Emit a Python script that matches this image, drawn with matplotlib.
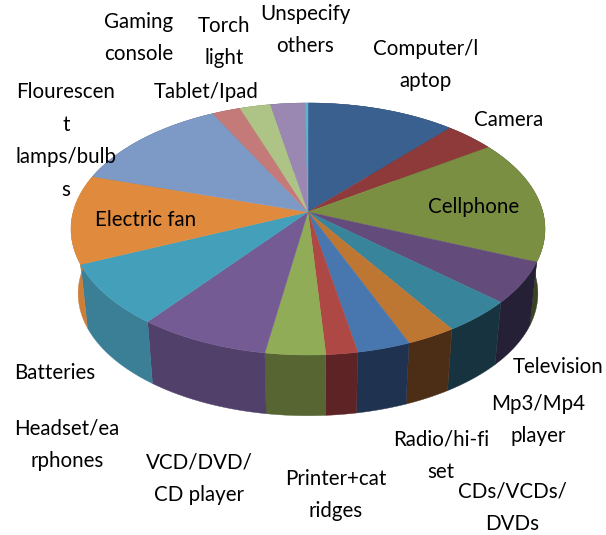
#!/usr/bin/env python3

import numpy as np
import matplotlib
matplotlib.use('Agg')
import matplotlib.pyplot as plt

# Share of each item (percent), clockwise from 12 o'clock
items = ['Computer/l\naptop', 'Camera', 'Cellphone', 'Television', 'Mp3/Mp4\nplayer',
         'Radio/hi-fi\nset', 'CDs/VCDs/\nDVDs', 'Printer+cat\nridges', 'VCD/DVD/\nCD player',
         'Headset/ea\nrphones', 'Batteries', 'Electric fan', 'Flourescen\nt\nlamps/bulb\ns',
         'Tablet/Ipad', 'Torch\nlight', 'Gaming\nconsole', 'Unspecify\nothers']
shares = [11.6, 3.9, 15.8, 5.3, 4.3, 3.0, 3.2, 1.9, 3.6, 7.9, 8.0, 11.4, 12.7, 2.2, 2.4, 2.7, 0.2]

top_colors = ['#3A6090', '#8E3A3B', '#7A8F42', '#634C7B', '#38849B', '#BE7732', '#4876AE',
              '#AE4845', '#91AC56', '#755B93', '#44A0BA', '#E08A3E', '#7D9AC6', '#C57A7A',
              '#AEC487', '#9A88B3', '#5CB5CE']
side_colors = ['#24395A', '#5A2425', '#3A4420', '#262036', '#17333F', '#4C2E16', '#1F3350',
               '#5E2324', '#566532', '#50406A', '#3B7F96', '#CC7D38', '#55698A', '#8A5555',
               '#76855A', '#6A5C7C', '#3E7D8E']

# label anchor (pixel centre of the text block)
label_x = [426, 509, 474, 558, 538, 441, 512, 336, 199, 67, 55, 146, 66, 206, 224, 139, 305]
label_y = [65, 120, 207, 367, 420, 456, 508, 495, 479, 445, 373, 220, 141, 92, 42, 38, 30]

# perspective of the pie disc
cx, cy = 308, 212
A, B, k = 123.7, 234.8, 0.135
floor_y, floor_scale = 277, 0.97


def rim(angles, x0, y0, scale):
    u = np.sin(angles)
    v = np.cos(angles)
    d = 1 + k * v
    return x0 + scale * B * u / d, y0 - scale * A * v / d


fig = plt.figure(figsize=(6.06, 5.35), dpi=100)
ax = fig.add_axes([0, 0, 1, 1])
ax.set_xlim(0, 606)
ax.set_ylim(535, 0)
ax.axis('off')

edges = np.concatenate([[0], np.cumsum(shares)]) / np.sum(shares) * 2 * np.pi

# walls first, then the top of each slice
for i in range(len(shares)):
    t = np.linspace(edges[i], edges[i + 1], 60)
    xt, yt = rim(t, cx, cy, 1.0)
    xb, yb = rim(t, cx, floor_y, floor_scale)
    ax.fill(np.r_[xt, xb[::-1]], np.r_[yt, yb[::-1]], color=side_colors[i], lw=0.3, zorder=2)

for i in range(len(shares)):
    t = np.linspace(edges[i], edges[i + 1], 60)
    xt, yt = rim(t, cx, cy, 1.0)
    ax.fill(np.r_[cx, xt], np.r_[cy, yt], color=top_colors[i], lw=0.3, zorder=3)

for name, x, y in zip(items, label_x, label_y):
    ax.text(x, y, name, ha='center', va='center', family='Lato', fontsize=14.8,
            color='black', linespacing=1.8, zorder=5)

fig.savefig('out.png', dpi=100)
